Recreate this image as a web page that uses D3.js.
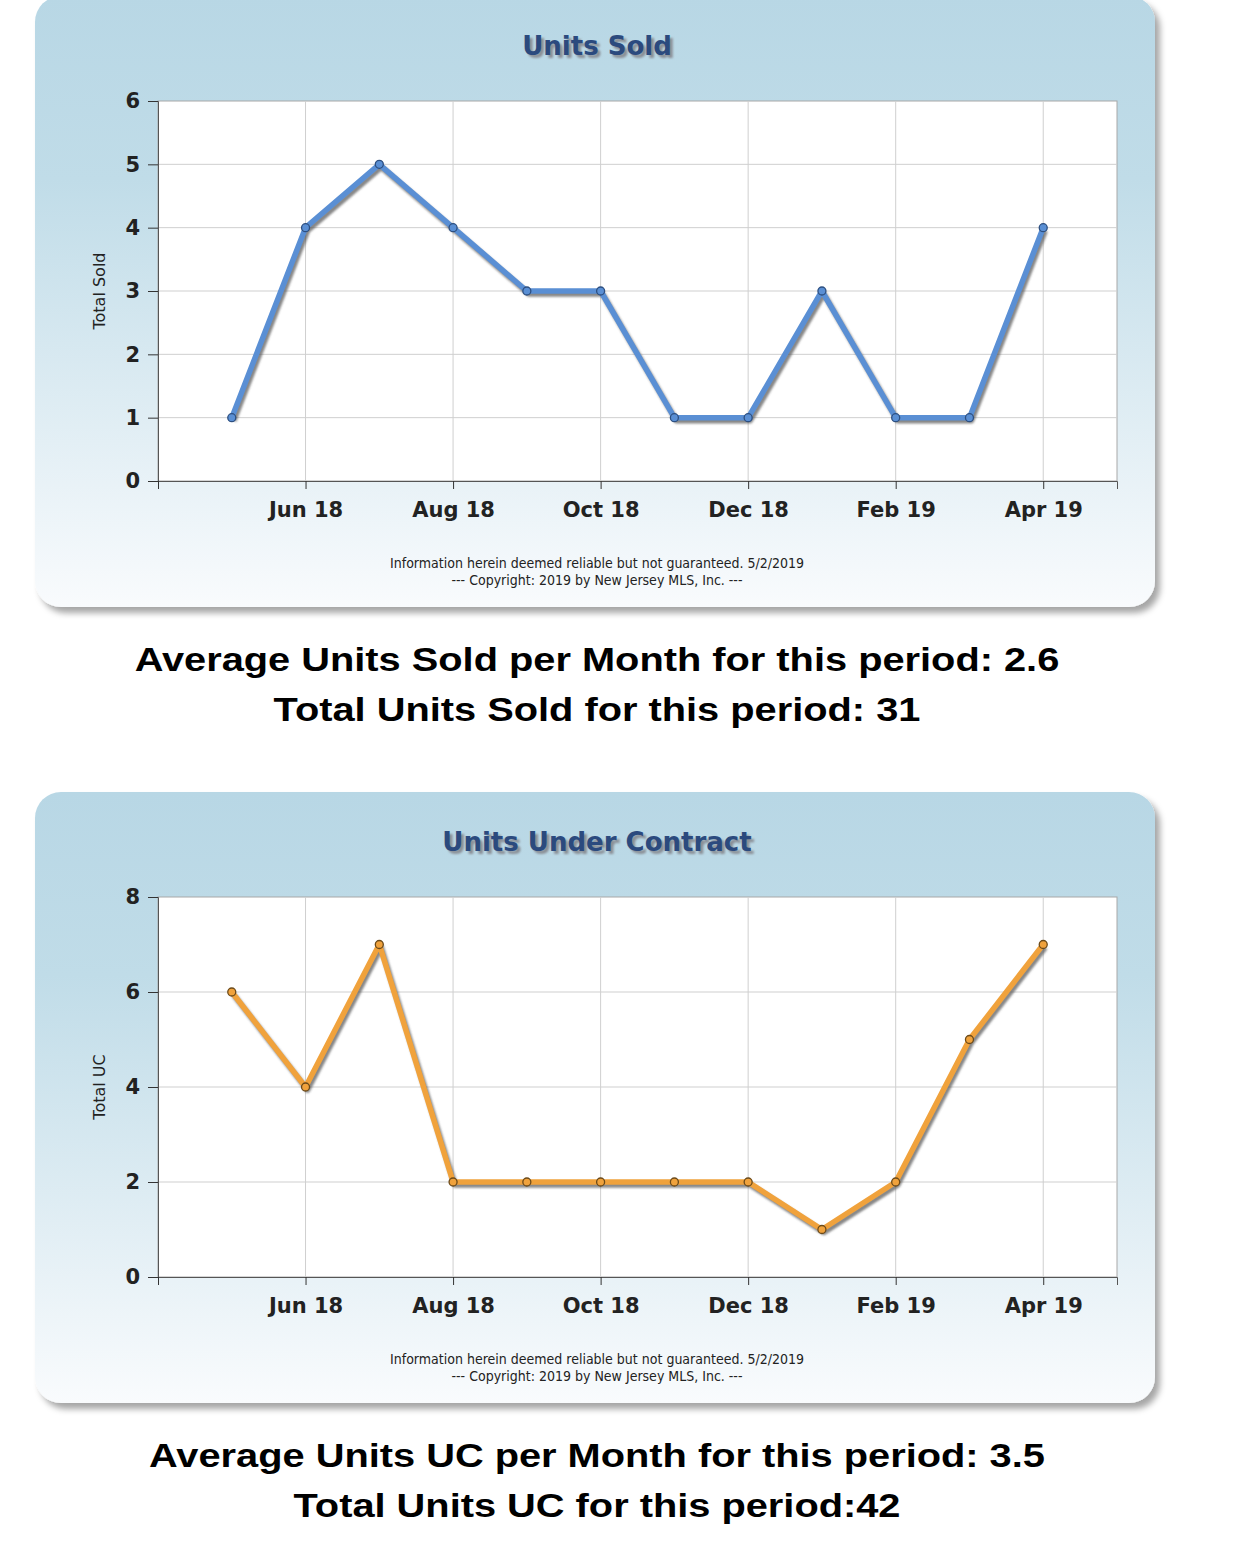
<!DOCTYPE html>
<html>
<head>
<meta charset="utf-8">
<script src="https://cdn.jsdelivr.net/npm/d3@7"></script>
<style>
  body { margin: 0; background: #fff; }
  svg { display: block; }
</style>
</head>
<body>
<svg id="chart"></svg>
<script>
// months on the x axis (index 0 = Apr 18, index 13 = May 19)
const months = ["May 18", "Jun 18", "Jul 18", "Aug 18", "Sep 18", "Oct 18",
                "Nov 18", "Dec 18", "Jan 19", "Feb 19", "Mar 19", "Apr 19"];
const tickLabels = ["Jun 18", "Aug 18", "Oct 18", "Dec 18", "Feb 19", "Apr 19"];
const unitsSold = [1, 4, 5, 4, 3, 3, 1, 1, 3, 1, 1, 4];
const unitsUC = [6, 4, 7, 2, 2, 2, 2, 2, 1, 2, 5, 7];

const W = 1234, H = 1550;
const svg = d3.select("#chart").attr("width", W).attr("height", H);

const defs = svg.append("defs");
const grad = defs.append("linearGradient").attr("id", "panelGrad")
  .attr("x1", 0).attr("y1", 0).attr("x2", 0).attr("y2", 1);
grad.append("stop").attr("offset", "0%").attr("stop-color", "#b8d7e5");
grad.append("stop").attr("offset", "30%").attr("stop-color", "#c0dce8");
grad.append("stop").attr("offset", "100%").attr("stop-color", "#f9fbfd");

const shadow = defs.append("filter").attr("id", "panelShadow")
  .attr("x", "-5%").attr("y", "-5%").attr("width", "115%").attr("height", "115%");
shadow.append("feDropShadow").attr("dx", 5).attr("dy", 6).attr("stdDeviation", 3)
  .attr("flood-color", "#000").attr("flood-opacity", 0.35);

const lineShadow = defs.append("filter").attr("id", "lineShadow")
  .attr("x", "-10%").attr("y", "-10%").attr("width", "120%").attr("height", "130%");
lineShadow.append("feGaussianBlur").attr("stdDeviation", 1.2);

const titleShadow = defs.append("filter").attr("id", "titleShadow");
titleShadow.append("feGaussianBlur").attr("stdDeviation", 1);

function drawPanel(top, cfg) {
  const g = svg.append("g").attr("transform", `translate(0,${top})`);

  g.append("rect")
    .attr("x", 35).attr("y", -4).attr("width", 1120).attr("height", 611)
    .attr("rx", 26).attr("ry", 26)
    .attr("fill", "url(#panelGrad)")
    .attr("filter", "url(#panelShadow)");

  const plot = {left: 158, right: 1117, top: 101, bottom: 481};

  const x = d3.scaleLinear().domain([0, 13]).range([plot.left, plot.right]);
  const y = d3.scaleLinear().domain([0, cfg.yMax]).range([plot.bottom, plot.top]);

  g.append("rect")
    .attr("x", plot.left).attr("y", plot.top)
    .attr("width", plot.right - plot.left).attr("height", plot.bottom - plot.top)
    .attr("fill", "#fff").attr("stroke", "#a8a8a8");

  const tickIdx = tickLabels.map(t => months.indexOf(t) + 1);

  // grid
  g.append("g").selectAll("line").data(cfg.yTicks.filter(v => v > 0 && v < cfg.yMax))
    .join("line")
    .attr("x1", plot.left).attr("x2", plot.right)
    .attr("y1", d => y(d)).attr("y2", d => y(d))
    .attr("stroke", "#cfcfcf");
  g.append("g").selectAll("line").data(tickIdx)
    .join("line")
    .attr("x1", d => x(d)).attr("x2", d => x(d))
    .attr("y1", plot.top).attr("y2", plot.bottom)
    .attr("stroke", "#cfcfcf");

  // axes
  const yAxis = d3.axisLeft(y).tickValues(cfg.yTicks).tickSize(10).tickPadding(8)
    .tickFormat(d3.format("d"));
  const ya = g.append("g").attr("transform", `translate(${plot.left},0)`).call(yAxis);
  ya.select(".domain").attr("stroke", "#555");
  ya.selectAll(".tick line").attr("stroke", "#333");
  ya.selectAll("text").attr("font-family", "DejaVu Sans").attr("font-weight", "bold")
    .attr("font-size", 21).attr("fill", "#222");

  const xAxis = d3.axisBottom(x).tickValues([0].concat(tickIdx)).tickSize(8).tickPadding(13)
    .tickFormat(d => d === 0 ? "" : months[d - 1]);
  const xa = g.append("g").attr("transform", `translate(0,${plot.bottom})`).call(xAxis);
  xa.select(".domain").attr("stroke", "#555");
  xa.selectAll(".tick line").attr("stroke", "#333");
  xa.selectAll("text").attr("font-family", "DejaVu Sans").attr("font-weight", "bold")
    .attr("font-size", 21).attr("fill", "#222");

  // y axis title
  g.append("text")
    .attr("transform", `translate(105,${(plot.top + plot.bottom) / 2}) rotate(-90)`)
    .attr("text-anchor", "middle")
    .attr("font-family", "DejaVu Sans").attr("font-size", 16).attr("fill", "#222")
    .text(cfg.yTitle);

  // title with shadow
  const tx = 597, ty = 55;
  g.append("text").attr("x", tx + 3).attr("y", ty + 3).attr("text-anchor", "middle")
    .attr("font-family", "DejaVu Sans").attr("font-weight", "bold").attr("font-size", 26)
    .attr("fill", "#8a8f96").attr("filter", "url(#titleShadow)").text(cfg.title);
  g.append("text").attr("x", tx).attr("y", ty).attr("text-anchor", "middle")
    .attr("font-family", "DejaVu Sans").attr("font-weight", "bold").attr("font-size", 26)
    .attr("fill", "#2b4a7e").text(cfg.title);

  // line
  const pts = cfg.values.map((v, i) => [x(i + 1), y(v)]);
  const line = d3.line();
  g.append("path").attr("d", line(pts.map(p => [p[0] + 2, p[1] + 3])))
    .attr("fill", "none").attr("stroke", "#555").attr("stroke-opacity", 0.7)
    .attr("stroke-width", 5.5).attr("stroke-linejoin", "round")
    .attr("filter", "url(#lineShadow)");
  g.append("path").attr("d", line(pts))
    .attr("fill", "none").attr("stroke", cfg.color)
    .attr("stroke-width", 5.5).attr("stroke-linejoin", "round");
  g.append("g").selectAll("circle").data(pts).join("circle")
    .attr("cx", d => d[0]).attr("cy", d => d[1]).attr("r", 4)
    .attr("fill", cfg.color).attr("stroke", cfg.markerStroke).attr("stroke-width", 1.3);

  // footer
  g.append("text").attr("x", 597).attr("y", 568).attr("text-anchor", "middle")
    .attr("font-family", "DejaVu Sans Condensed, DejaVu Sans").attr("font-size", 14)
    .attr("fill", "#222").text("Information herein deemed reliable but not guaranteed. 5/2/2019");
  g.append("text").attr("x", 597).attr("y", 585).attr("text-anchor", "middle")
    .attr("font-family", "DejaVu Sans Condensed, DejaVu Sans").attr("font-size", 14)
    .attr("fill", "#222").text("--- Copyright: 2019 by New Jersey MLS, Inc. ---");

  // summary text below the panel (stretched horizontally like the original)
  [[cfg.line1, 671], [cfg.line2, 721]].forEach(([txt, ly]) => {
    g.append("text")
      .attr("transform", `translate(597,${ly}) scale(1.17,1)`)
      .attr("text-anchor", "middle")
      .attr("font-family", "Liberation Sans, Arial").attr("font-weight", "bold")
      .attr("font-size", 34).attr("fill", "#000").text(txt);
  });
}

drawPanel(0, {
  title: "Units Sold", yTitle: "Total Sold", yMax: 6, yTicks: [0, 1, 2, 3, 4, 5, 6],
  values: unitsSold, color: "#5a8fd4", markerStroke: "#2d4f80",
  line1: "Average Units Sold per Month for this period: " + d3.format(".1f")(d3.mean(unitsSold)),
  line2: "Total Units Sold for this period: " + d3.sum(unitsSold)
});

drawPanel(796, {
  title: "Units Under Contract", yTitle: "Total UC", yMax: 8, yTicks: [0, 2, 4, 6, 8],
  values: unitsUC, color: "#f0a23c", markerStroke: "#6b4a1a",
  line1: "Average Units UC per Month for this period: " + d3.format(".1f")(d3.mean(unitsUC)),
  line2: "Total Units UC for this period:" + d3.sum(unitsUC)
});
</script>
</body>
</html>
